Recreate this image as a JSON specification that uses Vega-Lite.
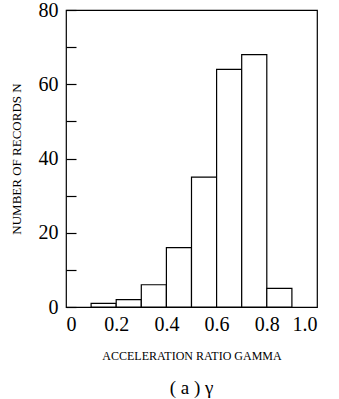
{
  "$schema": "https://vega.github.io/schema/vega-lite/v6.json",
  "width": 251,
  "height": 297,
  "autosize": {"type": "none"},
  "padding": {"left": 66, "top": 10, "right": 22, "bottom": 92},
  "background": "white",
  "config": {
    "view": {"stroke": "black", "strokeWidth": 1.2},
    "font": "Liberation Serif"
  },
  "title": {
    "text": "( a ) γ",
    "orient": "bottom",
    "fontSize": 19,
    "fontWeight": "normal",
    "font": "Liberation Serif",
    "color": "black",
    "offset": 18
  },
  "data": {
    "values": [
      {"bin_start": 0.1, "bin_end": 0.2, "count": 1},
      {"bin_start": 0.2, "bin_end": 0.3, "count": 2},
      {"bin_start": 0.3, "bin_end": 0.4, "count": 6},
      {"bin_start": 0.4, "bin_end": 0.5, "count": 16},
      {"bin_start": 0.5, "bin_end": 0.6, "count": 35},
      {"bin_start": 0.6, "bin_end": 0.7, "count": 64},
      {"bin_start": 0.7, "bin_end": 0.8, "count": 68},
      {"bin_start": 0.8, "bin_end": 0.9, "count": 5}
    ]
  },
  "mark": {"type": "rect", "fill": "white", "stroke": "black", "strokeWidth": 1.2},
  "encoding": {
    "x": {
      "field": "bin_start",
      "type": "quantitative",
      "scale": {"domain": [0, 1], "nice": false, "zero": false},
      "axis": {
        "title": "ACCELERATION RATIO GAMMA",
        "titleFont": "Liberation Serif",
        "titleFontSize": 12,
        "titleFontWeight": "normal",
        "titleColor": "black",
        "titlePadding": 16,
        "values": [0, 0.2, 0.4, 0.6, 0.8, 1.0],
        "labelExpr": "datum.value == 0 ? '0' : format(datum.value, '.1f')",
        "labelFont": "Liberation Serif",
        "labelFontSize": 20,
        "labelColor": "black",
        "labelPadding": 7,
        "ticks": false,
        "domain": false,
        "grid": false
      }
    },
    "x2": {"field": "bin_end"},
    "y": {
      "field": "count",
      "type": "quantitative",
      "scale": {"domain": [0, 80], "nice": false},
      "axis": {
        "title": "NUMBER OF RECORDS N",
        "titleFont": "Liberation Serif",
        "titleFontSize": 13,
        "titleFontWeight": "normal",
        "titleColor": "black",
        "titlePadding": 15,
        "values": [0, 10, 20, 30, 40, 50, 60, 70, 80],
        "labelExpr": "datum.value % 20 == 0 ? datum.label : ''",
        "labelFont": "Liberation Serif",
        "labelFontSize": 20,
        "labelColor": "black",
        "labelPadding": 18,
        "tickSize": -10,
        "tickColor": "black",
        "tickWidth": 1.2,
        "domain": false,
        "grid": false
      }
    },
    "y2": {"datum": 0}
  }
}
